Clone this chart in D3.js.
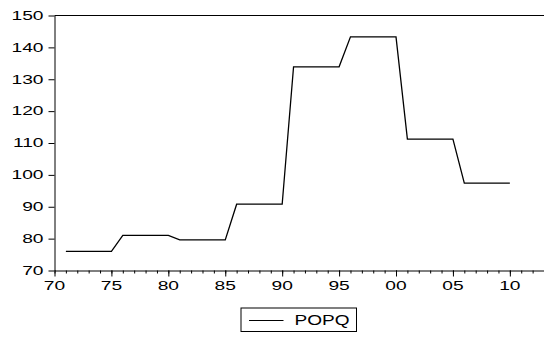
<!DOCTYPE html>
<html>
<head>
<meta charset="utf-8">
<script src="https://cdn.jsdelivr.net/npm/d3@7"></script>
<style>
  html, body { margin: 0; padding: 0; background: #fff; }
  svg { display: block; }
  text { font-family: "Liberation Sans", Arial, Helvetica, sans-serif; fill: #000; }
</style>
</head>
<body>
<svg id="chart" width="544" height="337"></svg>
<script>
// Annual series, 1971-2010
const years = [1971, 1972, 1973, 1974, 1975, 1976, 1977, 1978, 1979, 1980,
               1981, 1982, 1983, 1984, 1985, 1986, 1987, 1988, 1989, 1990,
               1991, 1992, 1993, 1994, 1995, 1996, 1997, 1998, 1999, 2000,
               2001, 2002, 2003, 2004, 2005, 2006, 2007, 2008, 2009, 2010];
const popq = [76, 76, 76, 76, 76, 81, 81, 81, 81, 81,
              79.6, 79.6, 79.6, 79.6, 79.6, 90.8, 90.8, 90.8, 90.8, 90.8,
              133.9, 133.9, 133.9, 133.9, 133.9, 143.3, 143.3, 143.3, 143.3, 143.3,
              111.2, 111.2, 111.2, 111.2, 111.2, 97.4, 97.4, 97.4, 97.4, 97.4];
const yTicks = [70, 80, 90, 100, 110, 120, 130, 140, 150];
const xMajorTicks = [1970, 1975, 1980, 1985, 1990, 1995, 2000, 2005, 2010];
const xTickLabels = ["70", "75", "80", "85", "90", "95", "00", "05", "10"];
const seriesName = "POPQ";

const svg = d3.select("#chart");
const plotLeft = 54.5, plotRight = 544, plotTop = 15.5, plotBottom = 270.5;

const x = d3.scaleLinear().domain([1970, 2013]).range([plotLeft, plotRight]);
const y = d3.scaleLinear().domain([70, 150]).range([plotBottom, plotTop]);

// frame: top border
svg.append("line")
  .attr("x1", plotLeft).attr("x2", plotRight)
  .attr("y1", plotTop).attr("y2", plotTop)
  .attr("stroke", "#000").attr("stroke-width", 1);

// left axis
const yAxis = d3.axisLeft(y).tickValues(yTicks).tickSize(6).tickSizeOuter(0).tickFormat("");
const gy = svg.append("g").attr("transform", `translate(${plotLeft},0)`).call(yAxis);
gy.select(".domain").attr("stroke", "#000");
gy.selectAll(".tick line").attr("stroke", "#000");

// bottom axis: yearly minor ticks, 5-year major ticks
const minorYears = d3.range(1970, 2014);
const gxMinor = svg.append("g").attr("transform", `translate(0,${plotBottom})`)
  .call(d3.axisBottom(x).tickValues(minorYears).tickSize(3).tickSizeOuter(0).tickFormat(""));
gxMinor.select(".domain").attr("stroke", "#000");
gxMinor.selectAll(".tick line").attr("stroke", "#000");
const gxMajor = svg.append("g").attr("transform", `translate(0,${plotBottom})`)
  .call(d3.axisBottom(x).tickValues(xMajorTicks).tickSize(6).tickSizeOuter(0).tickFormat(""));
gxMajor.select(".domain").remove();
gxMajor.selectAll(".tick line").attr("stroke", "#000");

// tick labels (wide lettering)
const sx = 1.6;
svg.append("g").selectAll("text").data(yTicks).join("text")
  .attr("transform", d => `translate(43.5,${y(d) + 4.3}) scale(${sx},1)`)
  .attr("text-anchor", "end")
  .style("font-size", "12px")
  .text(d => d);

svg.append("g").selectAll("text").data(xMajorTicks).join("text")
  .attr("transform", d => `translate(${x(d)},${plotBottom + 19.5}) scale(${sx},1)`)
  .attr("text-anchor", "middle")
  .style("font-size", "12px")
  .text((d, i) => xTickLabels[i]);

// series line
const line = d3.line().x((d, i) => x(years[i])).y(d => y(d));
svg.append("path")
  .datum(popq)
  .attr("d", line)
  .attr("fill", "none")
  .attr("stroke", "#000")
  .attr("stroke-width", 1.3)
  .attr("stroke-linejoin", "miter");

// legend
const lg = svg.append("g");
lg.append("rect")
  .attr("x", 241).attr("y", 308)
  .attr("width", 115.5).attr("height", 23.5)
  .attr("fill", "#fff").attr("stroke", "#000").attr("stroke-width", 1);
lg.append("line")
  .attr("x1", 249).attr("x2", 283.5)
  .attr("y1", 320.5).attr("y2", 320.5)
  .attr("stroke", "#000").attr("stroke-width", 1);
lg.append("text")
  .attr("transform", "translate(294.5,325.3) scale(1.36,1)")
  .style("font-size", "14px")
  .text(seriesName);
</script>
</body>
</html>
